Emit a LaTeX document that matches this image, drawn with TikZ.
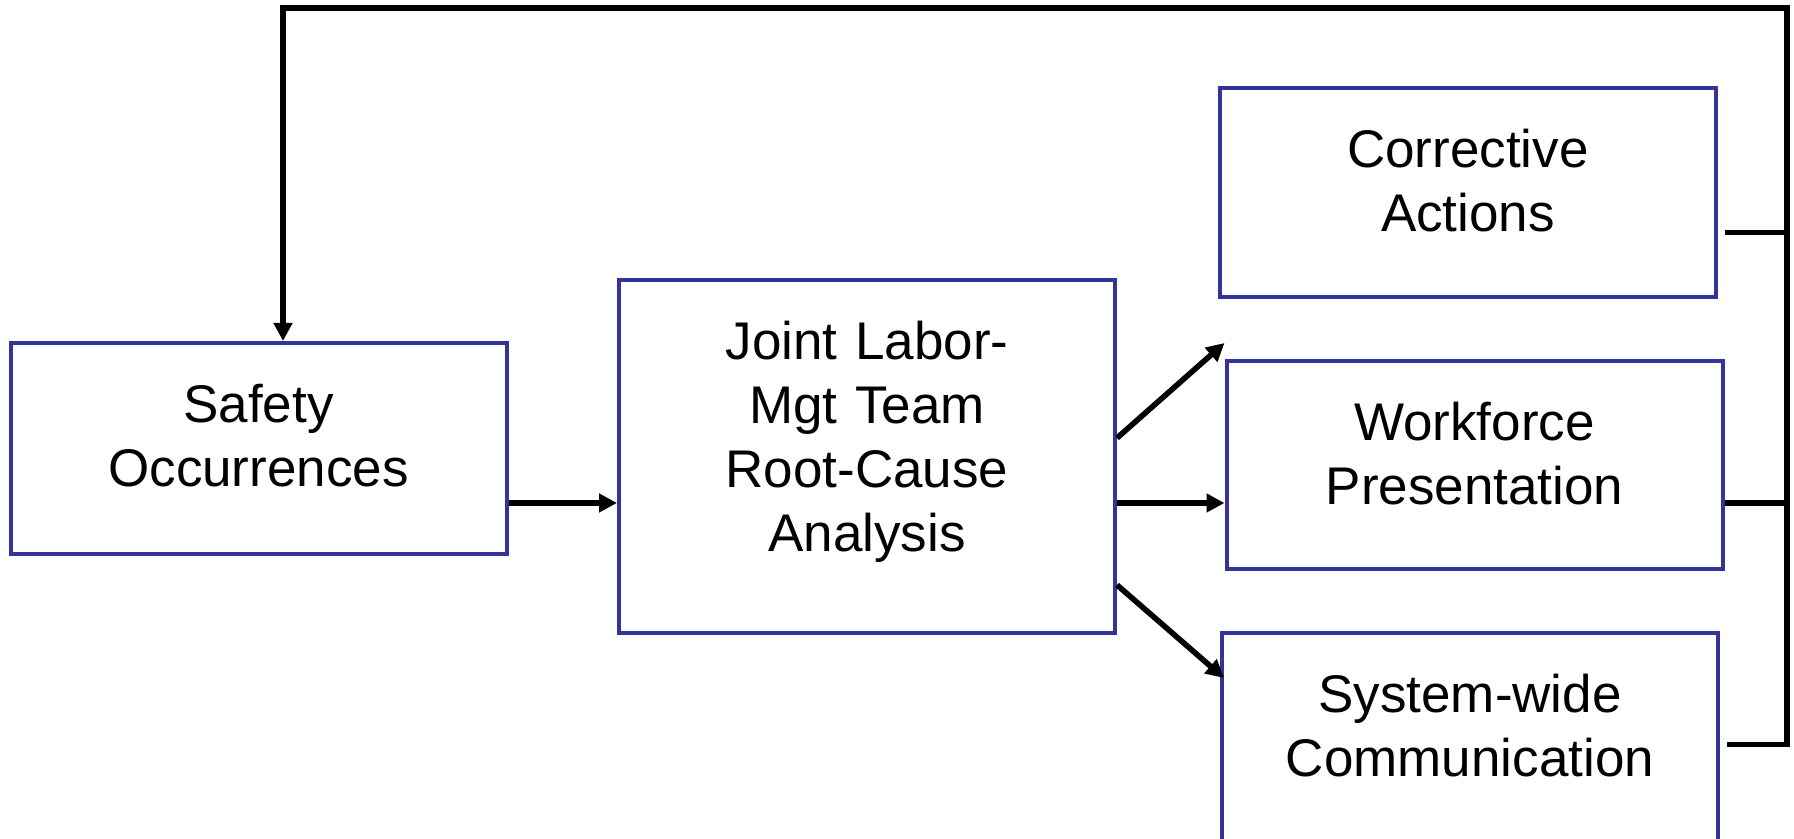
\documentclass[tikz,border=0pt]{standalone}
\usepackage{fontspec}
\setmainfont{Liberation Sans}
\usepackage{xcolor}
\definecolor{BoxBlue}{HTML}{333399}
\definecolor{NearBlack}{HTML}{000000}
\usetikzlibrary{positioning,calc,arrows.meta}

\begin{document}
\begin{tikzpicture}[x=1pt,y=1pt,
  stage/.style={draw=BoxBlue,line width=2pt,inner xsep=4pt,inner ysep=0pt,
    align=center,text width=230pt,minimum width=248pt,text height=40pt,
    font=\fontsize{26.5}{32}\selectfont,text=NearBlack},
  flow/.style={draw=NearBlack,line width=2.8pt,-{Triangle[length=9pt,width=9pt]}},
  feed/.style={draw=NearBlack,line width=2.7pt}]
\useasboundingbox (0,0) rectangle (897,419.5);
% process boxes
\node[stage,minimum height=105.5pt,text depth=65.5pt] (safety) at (129.25,195.25) {Safety\\Occurrences};
\node[stage,minimum height=176.5pt,text depth=136.5pt] (joint) at (433.5,191.25) {Joint Labor-\\Mgt Team\\Root-Cause\\Analysis};
\node[stage,minimum height=104.5pt,text depth=64.5pt] (corr) at (734,323.25) {Corrective\\Actions};
\node[stage,minimum height=104pt,text depth=64pt] (work) at (737.25,187) {Workforce\\Presentation};
\node[stage,minimum height=104.5pt,text depth=64.5pt] (sys) at (735,50.75) {System-wide\\Communication};
% forward flow
\coordinate (level) at (0,168);
\draw[flow] (safety.east |- level) -- (joint.west |- level);
\draw[flow] (joint.east |- level) -- (work.west |- level);
\draw[flow] ([yshift=9.25pt]joint.east) -- ([yshift=8pt]work.north west);
\draw[flow] ([yshift=-64.25pt]joint.east) -- ([xshift=2pt,yshift=-23.5pt]sys.north west);
% feedback rail
\coordinate (rail) at (893.5,415.5);
\coordinate (corrout) at ([xshift=3.5pt,yshift=-20pt]corr.east);
\coordinate (workout) at (work.east |- level);
\draw[feed] (corrout) -- (corrout -| rail);
\draw[feed] (workout) -- (workout -| rail);
\draw[feed,-{Triangle[length=9pt,width=9pt]},line join=miter]
  ([xshift=3.5pt,yshift=-3.5pt]sys.east) -| (rail) -| ([xshift=12.25pt]safety.north);
\end{tikzpicture}
\end{document}
